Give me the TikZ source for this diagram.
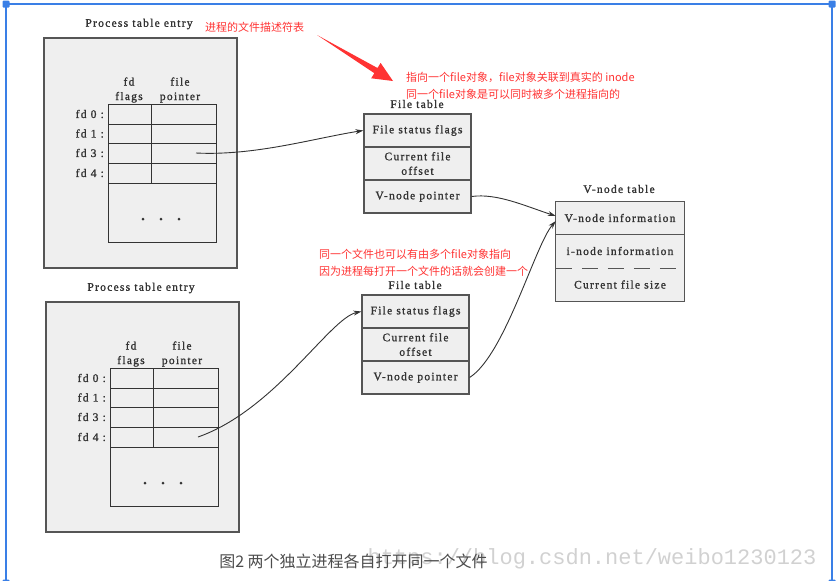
\documentclass[tikz,border=0pt]{standalone}
\usepackage{fontspec}
\usetikzlibrary{arrows.meta}

\newfontfamily\diagfont[LetterSpace=11, FakeBold=1.3]{Liberation Serif}
\newfontfamily\cjkfont{Noto Sans CJK SC}
\newfontfamily\markfont{Liberation Mono}

\begin{document}
\begin{tikzpicture}[x=1pt, y=-1pt,
    lbl/.style={font=\diagfont\fontsize{11.5}{14.5}\selectfont, text=textColour, inner sep=0pt, align=center},
    note/.style={font=\cjkfont\fontsize{11}{13}\selectfont, text=noteColour, anchor=west, inner sep=0pt},
    box/.style={draw=borderColour, fill=fillColour, line width=1.2pt},
    tbl/.style={draw=textColour, line width=1pt},
    ftcell/.style={box, lbl, minimum width=107pt, minimum height=33pt},
    vncell/.style={lbl, fill=fillColour, minimum width=128pt},
    link/.style={draw=textColour, line width=0.9pt, -{Stealth[length=8pt,width=5pt]}},
]
    \definecolor{textColour}{HTML}{333333}
    \definecolor{borderColour}{HTML}{555555}
    \definecolor{fillColour}{HTML}{EFEFEF}
    \definecolor{noteColour}{HTML}{FF3333}
    \definecolor{frameColour}{HTML}{3A7FE6}

    % Page size
    \useasboundingbox (0,0) rectangle (836,581);

    % Selection frame round the picture
    \draw[frameColour, line width=1.1pt] (6,581) -- (6,4) -- (832,4) -- (832,581);
    \foreach \hx/\hy in {6/4, 832/4, 6/583, 832/583}
        \fill[frameColour, rounded corners=1pt] (\hx-3.5,\hy-3.5) rectangle (\hx+3.5,\hy+3.5);

    % Process table entries
    \foreach \p/\dx/\dy in {1/0/0, 2/2/264} {
        \begin{scope}[shift={(\dx,\dy)}]
            \node[lbl] (title\p) at (139,24) {Process table entry};
            \node[box, minimum width=193pt, minimum height=230pt, inner sep=0pt] (proc\p) at (140.5,153) {};
            % fd table
            \draw[tbl] (108,104) rectangle (216,242);
            \foreach \y in {124,143,163,183}
                \draw[tbl] (108,\y) -- (216,\y);
            \draw[tbl] (151,104) -- (151,183);
            \node[lbl] (flags\p) at (129,90) {fd\\flags};
            \node[lbl] (fptr\p) at (180,90) {file\\pointer};
            \foreach \y/\n in {114/0, 133.5/1, 153/3, 173/4} {
                \node[lbl, anchor=east] (fd\p-\n) at (104,\y) {fd \n\ :};
                \coordinate (ptr\p-\n) at (196,\y);
            }
            % more entries
            \foreach \x in {143,161,179}
                \fill[textColour] (\x,219) circle (1.5pt);
        \end{scope}
    }

    % File tables
    \foreach \t/\dx/\dy in {1/0/0, 2/-2/181} {
        \begin{scope}[shift={(\dx,\dy)}]
            \node[lbl] (fttitle\t) at (417,104) {File table};
            \node[ftcell] (ft\t-1) at (417.5,130.5) {File status flags};
            \node[ftcell] (ft\t-2) at (417.5,163.5) {Current file\\offset};
            \node[ftcell] (ft\t-3) at (417.5,196.5) {V-node pointer};
        \end{scope}
    }

    % V-node table
    \node[lbl] (vntitle) at (619,189) {V-node table};
    \node[vncell, minimum height=32pt] (vn1) at (620,218) {V-node information};
    \node[vncell, minimum height=34pt] (vn2) at (620,251) {i-node information};
    \node[vncell, minimum height=33pt] (vn3) at (620,284.5) {Current file size};
    \draw[borderColour, line width=1.2pt] (vn1.north west) rectangle (vn3.south east);
    \draw[borderColour, line width=1.2pt] (vn1.south west) -- (vn1.south east);
    \draw[borderColour, line width=1.2pt, dash pattern=on 16pt off 10pt] (vn2.south west) -- (vn2.south east);

    % Pointers
    \draw[link] (ptr1-3) .. controls (255,156) and (315,138) .. (ft1-1.west);
    \draw[link] (ft1-3.east) .. controls (497,193) and (525,206) .. ([yshift=2pt]vn1.west);
    \draw[link] (ft2-3.east) .. controls (505,355) and (535,245) .. ([yshift=-3pt]vn1.west);
    \draw[link] (ptr2-4) .. controls (275,410) and (330,318) .. (ft2-1.west);

    % Red notes
    \node[note] (note1) at (205,27) {进程的文件描述符表};
    \node[note] (note2) at (406,77) {指向一个file对象，file对象关联到真实的 inode};
    \node[note] (note3) at (406,94) {同一个file对象是可以同时被多个进程指向的};
    \node[note] (note4) at (319,254) {同一个文件也可以有由多个file对象指向};
    \node[note] (note5) at (319,271) {因为进程每打开一个文件的话就会创建一个};
    \fill[noteColour] (317,35) -- (377.5,68.0) -- (380.6,62.9) -- (393,81) -- (371.2,78.3) -- (374.3,73.2) -- cycle;

    % Watermark and caption
    \node[font=\markfont\fontsize{22}{24}\selectfont, text=black!18, inner sep=0pt] (mark) at (592,559) {https://blog.csdn.net/weibo1230123};
    \node[font=\cjkfont\fontsize{16}{18}\selectfont, text=black!70, inner sep=0pt] (caption) at (353.5,561) {图2 两个独立进程各自打开同一个文件};

\end{tikzpicture}
\end{document}
